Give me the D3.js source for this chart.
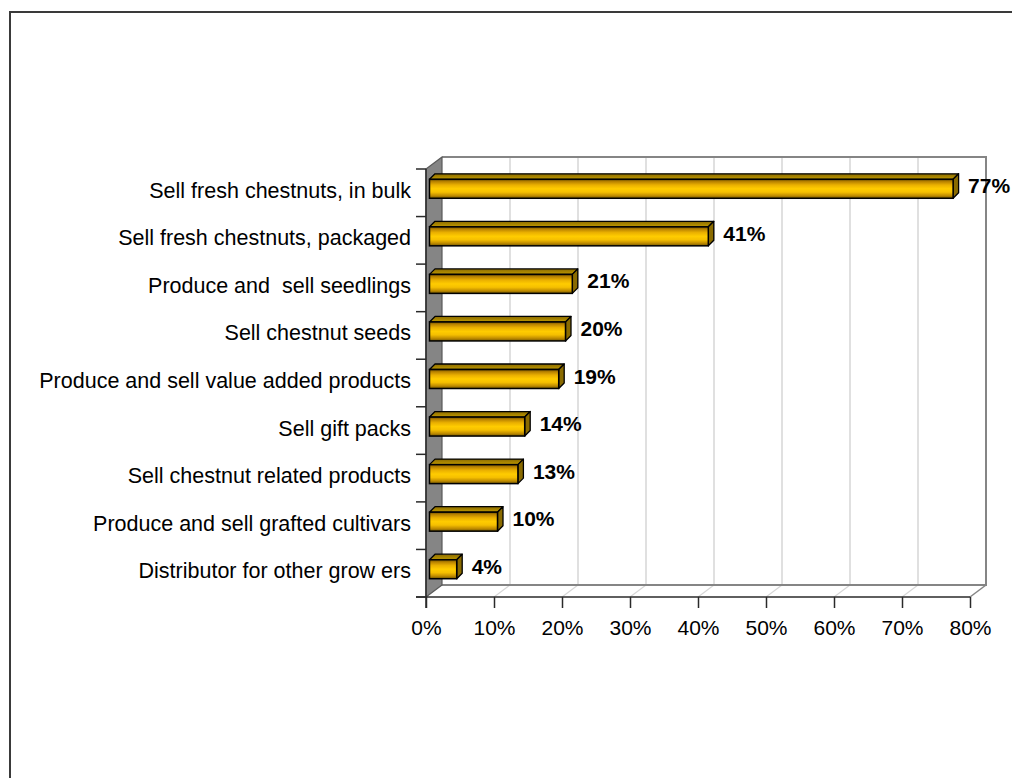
<!DOCTYPE html>
<html>
<head>
<meta charset="utf-8">
<script src="https://cdn.jsdelivr.net/npm/d3@7"></script>
<style>
  html, body { margin: 0; padding: 0; background: #fff; }
  svg { display: block; font-family: "Liberation Sans", Arial, sans-serif; }
</style>
</head>
<body>
<svg id="chart" width="1012" height="778"></svg>
<script>
// Activities reported by chestnut growers (share of respondents)
const categories = [
  "Sell fresh chestnuts, in bulk",
  "Sell fresh chestnuts, packaged",
  "Produce and  sell seedlings",
  "Sell chestnut seeds",
  "Produce and sell value added products",
  "Sell gift packs",
  "Sell chestnut related products",
  "Produce and sell grafted cultivars",
  "Distributor for other grow ers"
];
const values = [77, 41, 21, 20, 19, 14, 13, 10, 4];
const tickValues = [0, 10, 20, 30, 40, 50, 60, 70, 80];

const svg = d3.select("#chart");

// Front plane of the 3D plot box and the depth offset of the back wall
const front = { left: 426, right: 970, top: 169, bottom: 597 };
const depth = { dx: 16, dy: -12 };

const x = d3.scaleLinear().domain([0, 80]).range([front.left, front.right]);
const y = d3.scaleBand().domain(categories).range([front.top, front.bottom]);

// Bar geometry inside each band
const barShift = { dx: 3.5, dy: -4 };
const barHeight = 19;
const barDepth = { dx: 5.5, dy: -5.5 };

// Outer chart frame
svg.append("rect")
  .attr("x", 10).attr("y", 12)
  .attr("width", 1100).attr("height", 900)
  .attr("fill", "none").attr("stroke", "#3a3a3a").attr("stroke-width", 2);

// Gradient for the bar fronts
const defs = svg.append("defs");
const grad = defs.append("linearGradient")
  .attr("id", "barFront").attr("x1", 0).attr("y1", 0).attr("x2", 0).attr("y2", 1);
[[0, "#6e5000"], [0.12, "#b88200"], [0.3, "#eab000"], [0.5, "#ffcc00"],
 [0.68, "#f5bf00"], [0.86, "#c08c00"], [1, "#745800"]]
  .forEach(([o, c]) => grad.append("stop").attr("offset", o).attr("stop-color", c));

const gTop = defs.append("linearGradient")
  .attr("id", "barTop").attr("x1", 0).attr("y1", 0).attr("x2", 0).attr("y2", 1);
[[0, "#8a6a00"], [1, "#c09a00"]]
  .forEach(([o, c]) => gTop.append("stop").attr("offset", o).attr("stop-color", c));

// Back wall
const back = {
  left: front.left + depth.dx, right: front.right + depth.dx,
  top: front.top + depth.dy, bottom: front.bottom + depth.dy
};
svg.append("rect")
  .attr("x", back.left).attr("y", back.top)
  .attr("width", back.right - back.left).attr("height", back.bottom - back.top)
  .attr("fill", "#fff");

// Gridlines on the back wall
svg.append("g").selectAll("line")
  .data(tickValues.filter(v => v > 0 && v < 80))
  .join("line")
  .attr("x1", d => x(d) + depth.dx).attr("x2", d => x(d) + depth.dx)
  .attr("y1", back.top).attr("y2", back.bottom)
  .attr("stroke", "#d6d6d6").attr("stroke-width", 1.5);

// Gridlines across the floor
svg.append("g").selectAll("line")
  .data(tickValues.filter(v => v > 0 && v < 80))
  .join("line")
  .attr("x1", d => x(d)).attr("y1", front.bottom)
  .attr("x2", d => x(d) + depth.dx).attr("y2", back.bottom)
  .attr("stroke", "#d6d6d6").attr("stroke-width", 1.2);

// Back wall outline (top, right, bottom)
svg.append("path")
  .attr("d", `M${back.left},${back.top}H${back.right}V${back.bottom}H${back.left}`)
  .attr("fill", "none").attr("stroke", "#858585").attr("stroke-width", 2);

// Floor right edge
svg.append("line")
  .attr("x1", front.right).attr("y1", front.bottom)
  .attr("x2", back.right).attr("y2", back.bottom)
  .attr("stroke", "#858585").attr("stroke-width", 1.5);

// Side wall
svg.append("path")
  .attr("d", `M${front.left},${front.top}L${back.left},${back.top}L${back.left},${back.bottom}L${front.left},${front.bottom}Z`)
  .attr("fill", "#858585").attr("stroke", "#5a5a5a").attr("stroke-width", 1.2)
  .attr("stroke-linejoin", "round");

// Category axis: line and outward ticks at band boundaries
const axisColor = "#2a2a2a";
svg.append("line")
  .attr("x1", front.left).attr("x2", front.left)
  .attr("y1", front.top).attr("y2", front.bottom + 11)
  .attr("stroke", axisColor).attr("stroke-width", 1.5);
const boundaries = categories.map(c => y(c)).concat([front.bottom]);
svg.append("g").selectAll("line")
  .data(boundaries)
  .join("line")
  .attr("x1", front.left - 10).attr("x2", front.left)
  .attr("y1", d => d).attr("y2", d => d)
  .attr("stroke", axisColor).attr("stroke-width", 1.5);

// Value axis along the front of the floor
const xAxis = d3.axisBottom(x)
  .tickValues(tickValues)
  .tickFormat(d => d + "%")
  .tickSize(11)
  .tickPadding(12);
const gx = svg.append("g")
  .attr("transform", `translate(0,${front.bottom})`)
  .call(xAxis);
gx.select(".domain").remove();
gx.selectAll(".tick line").attr("stroke", axisColor).attr("stroke-width", 1.5);
gx.selectAll(".tick text")
  .attr("fill", "#000")
  .style("font-size", "21px")
  .style("font-family", "'Liberation Sans', Arial, sans-serif");
svg.append("line")
  .attr("x1", front.left - 10).attr("x2", front.right)
  .attr("y1", front.bottom).attr("y2", front.bottom)
  .attr("stroke", axisColor).attr("stroke-width", 1.5);

// Category labels
svg.append("g").selectAll("text")
  .data(categories)
  .join("text")
  .attr("x", 411)
  .attr("y", d => y(d) + y.bandwidth() / 2 + 5)
  .attr("text-anchor", "end")
  .style("font-size", "21.5px")
  .style("white-space", "pre")
  .attr("fill", "#000")
  .text(d => d);

// Bars: front face, top face and end face
const rows = categories.map((c, i) => ({ cat: c, value: values[i] }));
const bars = svg.append("g").selectAll("g")
  .data(rows)
  .join("g");

const geom = d => {
  const x0 = x(0) + barShift.dx;
  const x1 = x(d.value) + barShift.dx;
  const cy = y(d.cat) + y.bandwidth() / 2 + barShift.dy;
  return { x0, x1, y0: cy - barHeight / 2, y1: cy + barHeight / 2, cy };
};

bars.append("path")
  .attr("d", d => {
    const g = geom(d);
    return `M${g.x0},${g.y0}L${g.x0 + barDepth.dx},${g.y0 + barDepth.dy}L${g.x1 + barDepth.dx},${g.y0 + barDepth.dy}L${g.x1},${g.y0}Z`;
  })
  .attr("fill", "url(#barTop)").attr("stroke", "#000").attr("stroke-width", 1.3)
  .attr("stroke-linejoin", "round");

bars.append("path")
  .attr("d", d => {
    const g = geom(d);
    return `M${g.x1},${g.y0}L${g.x1 + barDepth.dx},${g.y0 + barDepth.dy}L${g.x1 + barDepth.dx},${g.y1 + barDepth.dy}L${g.x1},${g.y1}Z`;
  })
  .attr("fill", "#8a6b00").attr("stroke", "#000").attr("stroke-width", 1.3)
  .attr("stroke-linejoin", "round");

bars.append("rect")
  .attr("x", d => geom(d).x0)
  .attr("y", d => geom(d).y0)
  .attr("width", d => geom(d).x1 - geom(d).x0)
  .attr("height", barHeight)
  .attr("fill", "url(#barFront)").attr("stroke", "#000").attr("stroke-width", 1.5);

// Value labels
bars.append("text")
  .attr("x", d => geom(d).x1 + 15)
  .attr("y", d => geom(d).cy - 3 + 7.5)
  .style("font-size", "21px")
  .style("font-weight", "bold")
  .attr("fill", "#000")
  .text(d => d.value + "%");
</script>
</body>
</html>
